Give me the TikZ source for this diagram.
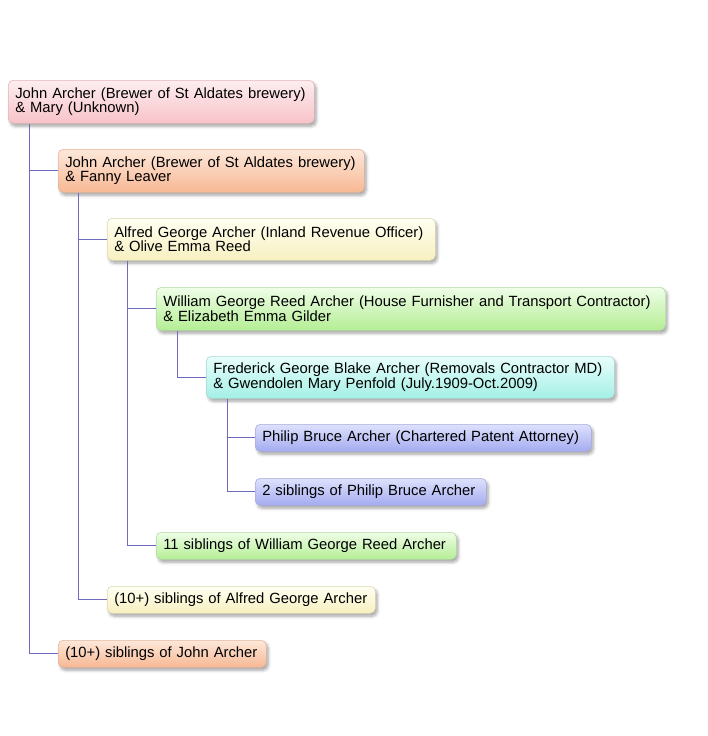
\documentclass[tikz,border=0pt]{standalone}
\usepackage{fontspec}
\setmainfont{Liberation Sans}
\usetikzlibrary{shadows.blur}
\definecolor{pinkT}{HTML}{FDEEF0}\definecolor{pinkB}{HTML}{F7C3C8}\definecolor{pinkD}{HTML}{E2B4B8}
\definecolor{peachT}{HTML}{FDE8DA}\definecolor{peachB}{HTML}{F7B894}\definecolor{peachD}{HTML}{E2B49A}
\definecolor{yelT}{HTML}{FFFFF2}\definecolor{yelB}{HTML}{F7F0C0}\definecolor{yelD}{HTML}{DCD8B4}
\definecolor{grnT}{HTML}{EFFDE8}\definecolor{grnB}{HTML}{B4EE94}\definecolor{grnD}{HTML}{B4D8A4}
\definecolor{cyaT}{HTML}{E8FEFC}\definecolor{cyaB}{HTML}{A4F0E6}\definecolor{cyaD}{HTML}{A8D8D2}
\definecolor{bluT}{HTML}{DEE1FD}\definecolor{bluB}{HTML}{A4ABF0}\definecolor{bluD}{HTML}{A8ACDC}
\definecolor{lineC}{HTML}{6E6AC0}
\begin{document}
\begin{tikzpicture}[x=1pt,y=-1pt,
  box/.style={draw=#1D, line width=0.6pt, rounded corners=5pt, anchor=north west,
    inner xsep=7pt, inner ysep=0pt, align=left, top color=#1T, bottom color=#1B,
    font=\fontsize{14.8}{14.5}\selectfont,
    blur shadow={shadow xshift=2pt, shadow yshift=-3pt, shadow blur radius=3pt, shadow opacity=35}},
  conn/.style={draw=lineC, line width=0.7pt}]
\useasboundingbox (0,0) rectangle (707,736);
\node[box=pink, text width=292pt, minimum height=43pt] (a) at (8,80) {John Archer (Brewer of St Aldates brewery)\\\& Mary (Unknown)};
\node[box=peach, text width=292pt, minimum height=43pt] (b) at (58,149) {John Archer (Brewer of St Aldates brewery)\\\& Fanny Leaver};
\node[box=yel, text width=314pt, minimum height=42pt] (c) at (107,218) {Alfred George Archer (Inland Revenue Officer)\\\& Olive Emma Reed};
\node[box=grn, text width=495pt, minimum height=43pt] (d) at (156,287) {William George Reed Archer (House Furnisher and Transport Contractor)\\\& Elizabeth Emma Gilder};
\node[box=cya, text width=394pt, minimum height=42pt] (e) at (206,356) {Frederick George Blake Archer (Removals Contractor MD)\\\& Gwendolen Mary Penfold (July.1909-Oct.2009)};
\node[box=blu, text width=322pt, minimum height=27pt] (f) at (255,424) {Philip Bruce Archer (Chartered Patent Attorney)};
\node[box=blu, text width=217pt, minimum height=27pt] (g) at (255,478) {2 siblings of Philip Bruce Archer};
\node[box=grn, text width=286pt, minimum height=27pt] (h) at (156,532) {11 siblings of William George Reed Archer};
\node[box=yel, text width=254pt, minimum height=27pt] (i) at (107,586) {(10+) siblings of Alfred George Archer};
\node[box=peach, text width=194pt, minimum height=27pt] (j) at (58,640) {(10+) siblings of John Archer};
\path[conn] ([xshift=21pt]a.south west) |- (j.west);
\path[conn] ([xshift=21pt]a.south west) |- (b.west);
\path[conn] ([xshift=20pt]b.south west) |- (i.west);
\path[conn] ([xshift=20pt]b.south west) |- (c.west);
\path[conn] ([xshift=20pt]c.south west) |- (h.west);
\path[conn] ([xshift=20pt]c.south west) |- (d.west);
\path[conn] ([xshift=21pt]d.south west) |- (e.west);
\path[conn] ([xshift=21pt]e.south west) |- (g.west);
\path[conn] ([xshift=21pt]e.south west) |- (f.west);
\end{tikzpicture}
\end{document}
